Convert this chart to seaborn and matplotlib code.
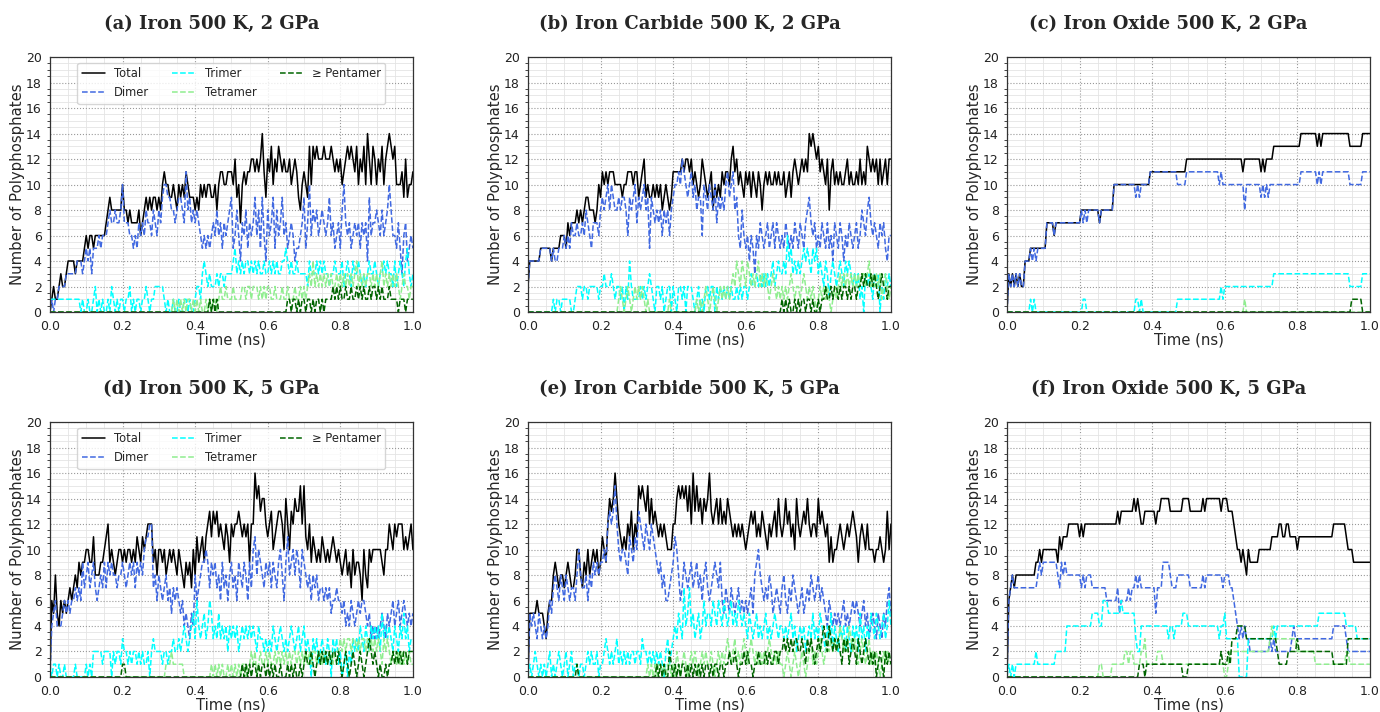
import numpy as np
import matplotlib
matplotlib.use("Agg")
import matplotlib.pyplot as plt
from matplotlib.ticker import MultipleLocator, AutoMinorLocator
import seaborn as sns

# values read every 0.005 ns (201 samples per series)

# (a) Iron 500 K, 2 GPa
a_total = [0,1,2,1,1,2,3,2,2,3, 4,4,4,4,3,4,4,4,4,5, 6,5,6,6,5,6,6,6,6,6, 6,7,8,9,8,8,8,8,8,8,
           10,8,8,7,8,7,7,7,7,8, 6,7,8,9,8,9,8,9,9,8, 9,8,10,11,10,10,9,9,10,9, 8,10,9,10,9,11,10,9,9,9,
           8,9,8,10,9,10,9,10,10,9, 9,10,8,10,11,11,10,10,11,11, 11,10,12,9,10,7,10,11,10,11, 11,12,12,11,12,11,12,14,11,9,
           12,11,13,10,12,11,13,12,11,12, 11,11,12,10,11,12,11,9,8,10, 11,10,9,13,10,13,12,13,12,12, 12,13,12,12,12,13,12,11,12,11,
           12,10,11,12,13,12,13,12,11,13, 10,12,11,13,10,14,12,10,13,12, 10,12,11,13,10,12,13,14,13,12, 13,10,10,10,11,9,12,9,10,10, 11]
a_dimer = [0,1,0,1,1,2,2,2,2,3, 3,3,3,3,3,4,4,4,3,4, 5,4,5,3,5,5,5,6,5,6, 6,6,7,8,7,7,8,7,7,8,
           10,7,7,7,6,6,5,6,5,7, 6,7,6,8,7,7,6,8,7,6, 8,7,9,10,10,9,9,8,8,7, 8,9,9,8,7,11,8,9,7,8,
           7,8,7,6,5,6,5,6,5,6, 7,6,8,6,7,5,7,6,7,8, 9,5,6,8,6,4,7,6,8,5, 7,6,7,9,6,8,5,9,6,4,
           8,6,7,9,5,8,6,7,9,6, 7,5,6,7,6,4,5,5,6,7, 9,5,7,10,6,8,7,8,6,7, 8,7,6,7,9,6,7,5,6,7,
           5,8,10,7,6,7,5,6,7,6, 7,5,7,6,7,4,9,6,7,7, 8,7,6,8,6,7,8,10,8,6, 6,5,7,5,3,6,7,4,5,6, 5]
a_trimer = [1,1,1,1,1,1,1,1,1,1, 1,1,1,1,1,1,1,0,1,0, 0,1,0,0,1,2,0,1,0,1, 0,0,1,0,2,1,0,1,0,1,
            1,0,1,1,2,0,1,0,1,1, 0,1,1,2,1,0,1,1,2,2, 2,2,2,1,0,1,0,0,1,0, 0,1,0,0,1,1,0,1,0,0,
            1,2,2,1,3,4,3,2,3,2, 2,2,3,2,3,3,2,3,3,3, 3,4,5,3,4,3,4,3,4,4, 3,4,3,4,3,4,3,3,4,3,
            3,4,3,4,3,4,3,3,4,4, 5,4,3,4,3,3,4,3,3,3, 3,3,2,4,3,3,3,4,3,4, 3,4,3,3,2,3,3,4,3,3,
            3,4,2,3,4,3,2,4,3,3, 4,3,2,3,2,3,4,3,3,4, 3,2,3,3,4,3,4,3,3,2, 4,2,3,4,3,2,4,5,3,2, 3]
a_tetramer = [0,0,0,0,0,0,0,0,0,0, 0,0,0,0,0,0,0,0,0,0, 0,0,0,0,0,0,0,0,0,0, 0,0,0,0,0,0,0,0,0,0,
              0,0,0,0,0,0,0,0,0,0, 0,0,0,0,0,0,0,0,0,0, 0,0,0,0,0,0,0,0,1,0, 1,0,1,0,1,0,1,1,0,1,
              0,1,0,1,0,0,1,0,1,0, 1,1,0,1,2,1,1,2,1,1, 1,2,1,1,1,1,2,2,1,2, 2,1,2,2,2,1,2,1,2,1,
              2,2,1,1,2,1,1,1,2,1, 1,2,1,1,1,2,1,1,2,1, 2,1,2,3,2,4,2,3,2,3, 2,3,2,3,2,3,2,2,3,2,
              3,2,3,2,3,2,3,2,3,4, 2,3,2,3,2,3,3,2,3,2, 3,2,3,4,2,3,2,3,2,3, 2,3,2,1,2,3,2,2,1,2, 2]
a_pentamer = [0,0,0,0,0,0,0,0,0,0, 0,0,0,0,0,0,0,0,0,0, 0,0,0,0,0,0,0,0,0,0, 0,0,0,0,0,0,0,0,0,0,
              0,0,0,0,0,0,0,0,0,0, 0,0,0,0,0,0,0,0,0,0, 0,0,0,0,0,0,0,0,0,0, 0,0,0,0,0,0,0,0,0,0,
              0,0,0,0,0,0,0,0,1,0, 1,0,1,0,0,0,0,0,0,0, 0,0,0,0,0,0,0,0,0,0, 0,0,0,0,0,0,0,0,0,0,
              0,0,0,0,0,0,0,0,0,0, 0,1,1,0,1,1,0,1,0,1, 1,0,1,1,0,1,0,1,1,0, 1,0,1,1,1,1,2,1,2,1,
              2,1,1,2,1,1,2,1,1,2, 1,2,1,2,1,1,2,1,2,2, 1,2,1,2,1,1,1,2,1,1, 1,1,0,1,1,1,0,1,1,1, 1]

# (b) Iron Carbide 500 K, 2 GPa
b_total = [2,4,4,4,4,4,4,5,5,5, 5,5,5,4,5,5,5,5,6,6, 6,5,7,6,7,7,7,8,7,8, 7,8,9,9,8,8,8,7,8,10,
           9,11,10,11,10,11,11,11,10,10, 10,10,9,10,10,11,11,11,10,11, 11,9,10,11,12,9,10,9,9,10, 9,10,9,10,8,9,10,9,8,9,
           11,11,11,11,11,12,11,12,12,11, 12,10,11,10,9,10,12,11,10,9, 10,11,8,10,9,10,9,11,10,11, 11,10,12,13,11,12,10,11,10,9,
           11,10,11,9,11,10,9,11,10,8, 10,11,10,11,10,10,11,10,11,10, 10,11,9,10,11,9,11,12,11,10, 11,12,11,12,11,14,13,14,13,12,
           13,11,12,11,10,12,8,11,12,10, 11,10,11,10,10,11,12,10,11,10, 10,11,10,12,10,11,10,13,12,11, 12,11,12,10,12,10,11,12,10,12, 12]
b_dimer = [2,4,4,4,4,4,4,5,5,5, 5,5,5,4,5,4,4,5,5,5, 6,5,6,5,7,6,6,7,6,6, 7,6,8,7,6,5,7,7,7,6,
           8,9,8,9,10,8,10,9,8,8, 9,8,9,9,8,6,9,8,9,10, 7,9,8,9,10,8,9,5,9,8, 7,8,7,8,6,8,7,8,6,8,
           9,10,10,11,10,12,11,10,9,10, 11,9,10,8,9,9,6,10,9,8, 10,9,8,10,7,9,8,9,8,10, 11,9,10,11,8,9,6,5,8,6,
           5,6,4,6,5,3,6,5,7,6, 5,6,7,5,6,7,5,7,6,5, 6,5,7,6,5,6,5,7,6,5, 7,6,5,7,8,9,7,6,7,5,
           6,5,7,6,5,7,5,6,4,7, 6,5,7,6,4,6,5,7,6,5, 6,7,5,6,8,7,6,8,9,7, 6,7,6,5,7,6,7,5,4,6, 6]
b_trimer = [0,0,0,0,0,0,0,0,0,0, 0,0,0,0,1,0,1,1,0,1, 1,1,1,1,0,0,1,2,2,2, 1,2,2,1,2,2,2,2,2,1,
            2,2,3,2,2,2,3,2,1,2, 2,1,2,0,2,1,4,2,1,1, 1,1,2,1,2,1,2,3,2,1, 0,2,2,1,2,0,1,2,2,0,
            2,1,0,2,2,1,2,0,2,2, 2,1,0,1,2,0,1,0,2,2, 1,2,2,0,2,1,2,1,2,1, 2,1,2,1,1,2,1,2,1,2,
            2,1,2,3,2,2,3,2,3,2, 3,2,3,2,3,4,2,3,4,3, 3,4,3,6,4,5,3,4,3,4, 3,4,5,4,5,4,3,5,4,5,
            3,4,3,2,4,3,1,3,4,3, 2,3,4,3,2,4,3,4,3,2, 3,2,3,1,2,0,3,2,3,2, 1,3,2,3,0,2,1,3,2,3, 2]
b_tetramer = [0,0,0,0,0,0,0,0,0,0, 0,0,0,0,0,0,0,0,0,0, 0,0,0,0,0,0,0,0,0,0, 0,0,0,0,0,0,0,0,0,0,
              0,0,0,0,0,0,0,0,0,0, 1,2,1,0,1,2,1,0,1,2, 1,2,1,2,1,0,1,0,0,0, 0,0,0,0,0,0,0,0,1,0,
              0,0,0,0,0,0,0,0,0,0, 0,0,0,1,0,1,0,1,2,1, 0,1,2,1,0,1,2,1,2,1, 2,1,2,3,2,4,3,2,4,3,
              2,4,3,2,3,2,3,4,2,3, 2,3,2,1,2,3,2,1,2,1, 2,1,2,1,2,3,2,1,2,2, 1,2,3,2,1,2,1,2,1,0,
              1,2,1,2,1,2,1,0,1,2, 1,2,3,2,3,2,3,2,3,2, 3,2,3,2,3,3,2,3,4,2, 3,2,3,2,3,1,2,3,2,1, 2]
b_pentamer = [0,0,0,0,0,0,0,0,0,0, 0,0,0,0,0,0,0,0,0,0, 0,0,0,0,0,0,0,0,0,0, 0,0,0,0,0,0,0,0,0,0,
              0,0,0,0,0,0,0,0,0,0, 0,0,0,0,0,0,0,0,0,0, 0,0,0,0,0,0,0,0,0,0, 0,0,0,0,0,0,0,0,0,0,
              0,0,0,0,0,0,0,0,0,0, 0,0,0,0,0,0,0,0,0,0, 0,0,0,0,0,0,0,0,0,0, 0,0,0,0,0,0,0,0,0,0,
              0,0,0,0,0,0,0,0,0,0, 0,0,0,0,0,0,0,0,0,0, 1,0,1,0,1,0,0,1,0,1, 0,1,1,0,1,1,0,1,0,0,
              1,0,1,1,2,1,1,2,1,2, 2,1,2,1,2,2,1,2,1,2, 2,1,2,2,3,2,3,2,2,3, 2,3,2,1,2,3,2,2,1,2, 2]

# (c) Iron Oxide 500 K, 2 GPa
c_total = [0,3,2,3,2,3,2,3,2,2, 4,4,4,5,5,5,5,5,5,5, 5,5,7,7,7,7,6,7,7,7, 7,7,7,7,7,7,7,7,7,7,
           7,8,8,8,8,8,8,8,8,8, 8,7,8,8,8,8,8,8,8,10, 10,10,10,10,10,10,10,10,10,10, 10,10,10,10,10,10,10,10,10,11,
           11,11,11,11,11,11,11,11,11,11, 11,11,11,11,11,11,11,11,11,12, 12,12,12,12,12,12,12,12,12,12, 12,12,12,12,12,12,12,12,12,12,
           12,12,12,12,12,12,12,12,12,12, 11,12,12,12,12,12,12,12,12,12, 11,12,11,12,12,12,12,13,13,13, 13,13,13,13,13,13,13,13,13,13,
           13,13,14,14,14,14,14,14,14,14, 14,13,14,13,14,14,14,14,14,14, 14,14,14,14,14,14,14,14,14,13, 13,13,13,13,13,13,14,14,14,14, 14]
c_dimer = [0,3,2,3,2,3,2,3,2,2, 4,4,4,5,4,5,4,5,5,5, 5,5,7,7,7,7,6,7,7,7, 7,7,7,7,7,7,7,7,7,7,
           7,8,7,8,7,8,8,8,8,8, 8,7,8,8,8,8,8,8,8,10, 10,10,10,10,10,10,10,10,10,10, 10,9,10,9,10,10,10,10,10,11,
           11,11,11,11,11,11,11,11,11,11, 11,11,11,11,10,10,10,10,10,11, 11,11,11,11,11,11,11,11,11,11, 11,11,11,11,11,11,11,10,11,10,
           10,10,10,10,10,10,10,10,10,10, 10,8,10,10,10,10,10,10,10,10, 9,10,9,10,9,10,10,10,10,10, 10,10,10,10,10,10,10,10,10,10,
           10,10,11,11,11,11,11,11,11,11, 11,10,11,10,11,11,11,11,11,11, 11,11,11,11,11,11,11,11,11,10, 10,10,10,10,10,10,11,11,11,11, 11]
c_trimer = [0,0,0,0,0,0,0,0,0,0, 0,0,0,1,0,1,0,0,0,0, 0,0,0,0,0,0,0,0,0,0, 0,0,0,0,0,0,0,0,0,0,
            0,0,1,1,0,0,0,0,0,0, 0,0,0,0,0,0,0,0,0,0, 0,0,0,0,0,0,0,0,0,0, 0,1,1,0,1,0,0,0,0,0,
            0,0,0,0,0,0,0,0,0,0, 0,0,0,0,1,1,1,1,1,1, 1,1,1,1,1,1,1,1,1,1, 1,1,1,1,1,1,1,1,2,1,
            2,2,2,2,2,2,2,2,2,2, 2,2,2,2,2,2,2,2,2,2, 2,2,2,2,2,2,2,3,3,3, 3,3,3,3,3,3,3,3,3,3,
            3,3,3,3,3,3,3,3,3,3, 3,3,3,3,3,3,3,3,3,3, 3,3,3,3,3,3,3,3,3,2, 2,2,2,2,2,2,3,3,3,3, 3]
c_tetramer = [0,0,0,0,0,0,0,0,0,0, 0,0,0,0,0,0,0,0,0,0, 0,0,0,0,0,0,0,0,0,0, 0,0,0,0,0,0,0,0,0,0,
              0,0,0,0,0,0,0,0,0,0, 0,0,0,0,0,0,0,0,0,0, 0,0,0,0,0,0,0,0,0,0, 0,0,0,0,0,0,0,0,0,0,
              0,0,0,0,0,0,0,0,0,0, 0,0,0,0,0,0,0,0,0,0, 0,0,0,0,0,0,0,0,0,0, 0,0,0,0,0,0,0,0,0,0,
              0,0,0,0,0,0,0,0,0,0, 0,1,0,0,0,0,0,0,0,0, 0,0,0,0,0,0,0,0,0,0, 0,0,0,0,0,0,0,0,0,0,
              0,0,0,0,0,0,0,0,0,0, 0,0,0,0,0,0,0,0,0,0, 0,0,0,0,0,0,0,0,0,0, 0,0,0,0,0,0,0,0,0,0, 0]
c_pentamer = [0,0,0,0,0,0,0,0,0,0, 0,0,0,0,0,0,0,0,0,0, 0,0,0,0,0,0,0,0,0,0, 0,0,0,0,0,0,0,0,0,0,
              0,0,0,0,0,0,0,0,0,0, 0,0,0,0,0,0,0,0,0,0, 0,0,0,0,0,0,0,0,0,0, 0,0,0,0,0,0,0,0,0,0,
              0,0,0,0,0,0,0,0,0,0, 0,0,0,0,0,0,0,0,0,0, 0,0,0,0,0,0,0,0,0,0, 0,0,0,0,0,0,0,0,0,0,
              0,0,0,0,0,0,0,0,0,0, 0,0,0,0,0,0,0,0,0,0, 0,0,0,0,0,0,0,0,0,0, 0,0,0,0,0,0,0,0,0,0,
              0,0,0,0,0,0,0,0,0,0, 0,0,0,0,0,0,0,0,0,0, 0,0,0,0,0,0,0,0,0,0, 1,1,1,1,1,1,0,0,0,0, 0]

# (d) Iron 500 K, 5 GPa
d_total = [0,6,5,8,5,4,6,5,6,5, 6,7,6,7,8,7,9,8,9,9, 10,10,9,9,11,8,8,8,9,9, 10,11,12,9,10,9,8,9,10,10,
           9,10,9,10,10,9,10,9,11,10, 9,11,10,11,12,12,12,9,10,8, 10,10,9,10,8,9,10,9,10,9, 8,10,9,8,7,9,8,9,7,10,
           8,11,9,10,11,9,11,12,13,11, 13,12,13,11,12,11,10,12,11,9, 12,11,12,12,13,12,11,12,11,12, 9,12,12,16,14,15,13,14,14,12,
           11,12,13,10,11,12,13,13,12,10, 14,12,10,13,12,14,13,13,15,12, 15,11,10,12,9,11,10,9,10,9, 11,10,9,10,9,10,11,10,9,10,
           9,8,9,10,8,9,7,10,8,9, 9,8,6,10,8,7,10,9,10,10, 10,10,10,9,8,10,10,12,11,10, 12,11,12,12,12,10,11,10,11,12, 10]
d_dimer = [0,4,5,6,4,4,4,5,6,5, 6,5,6,6,7,6,7,6,9,7, 8,9,7,8,9,7,6,7,8,7, 9,7,9,8,9,8,8,7,8,8,
           9,8,7,8,9,8,9,7,9,8, 9,8,10,11,11,12,12,7,8,6, 8,7,6,7,8,6,7,5,7,6, 7,6,5,6,4,5,4,3,5,4,
           8,6,7,8,9,9,10,9,7,9, 8,9,7,8,6,9,7,8,6,8, 9,7,8,6,9,8,7,9,8,6, 9,7,10,11,8,10,9,8,7,9,
           8,9,7,9,8,7,9,10,8,6, 9,11,8,9,10,8,10,9,7,10, 9,8,7,8,6,8,7,8,6,7, 7,6,7,6,7,5,6,6,7,6,
           6,5,6,4,5,4,6,5,4,5, 6,5,6,6,5,4,5,3,4,3, 4,3,4,5,4,3,5,4,5,6, 4,5,6,4,5,6,5,4,5,4, 5]
d_trimer = [1,0,1,1,0,1,0,0,1,0, 0,0,0,0,1,0,0,0,0,0, 1,0,1,0,2,2,2,2,2,1, 2,2,2,2,0,2,1,2,2,1,
            3,2,2,1,2,1,2,2,1,2, 1,2,1,1,2,0,2,3,2,2, 2,2,1,2,2,1,2,2,3,2, 2,3,2,3,4,3,2,3,4,5,
            3,6,4,3,4,5,3,4,6,5, 3,4,3,5,3,4,3,4,2,4, 3,4,3,4,2,3,4,3,4,3, 4,3,4,3,2,4,3,3,2,3,
            2,3,2,4,3,2,3,4,3,2, 3,2,3,4,3,2,3,4,2,3, 4,2,3,2,0,3,2,3,1,2, 3,2,1,3,2,0,3,2,3,1,
            2,0,1,2,0,2,1,3,2,3, 2,4,3,2,4,3,2,4,3,4, 3,4,2,5,3,4,3,4,3,2, 4,3,2,4,3,5,3,4,2,3, 3]
d_tetramer = [0,0,0,0,0,0,0,0,0,0, 0,0,0,0,0,0,0,0,0,0, 0,0,0,0,0,0,0,0,0,0, 0,0,0,0,0,0,0,0,0,0,
              0,0,0,0,0,0,0,0,0,0, 0,0,0,0,0,0,0,0,0,0, 0,0,0,0,1,1,1,2,1,1, 1,1,1,1,0,0,0,0,0,0,
              0,0,0,0,0,0,0,0,0,1, 0,1,0,1,0,1,0,0,1,0, 1,0,1,0,1,0,1,1,0,1, 1,2,1,2,0,1,2,1,1,2,
              1,2,1,1,2,1,2,1,2,1, 2,1,2,1,2,2,1,2,1,2, 1,2,1,2,1,2,2,1,2,2, 1,2,2,1,2,2,1,2,2,2,
              3,2,3,2,3,3,2,3,3,2, 3,2,3,3,2,3,2,3,2,3, 2,3,2,1,3,2,3,2,1,2, 2,1,2,1,2,1,2,1,2,1, 1]
d_pentamer = [0,0,0,0,0,0,0,0,0,0, 0,0,0,0,0,0,0,0,0,0, 0,0,0,0,0,0,0,0,0,0, 0,0,0,0,0,0,0,0,0,0,
              1,1,0,0,0,0,0,0,0,0, 0,0,0,0,0,0,0,0,0,0, 0,0,0,0,0,0,0,0,0,0, 0,0,0,0,0,0,0,0,0,0,
              0,0,0,0,0,0,0,0,0,0, 0,0,0,0,0,0,0,0,0,0, 0,0,0,0,0,0,1,0,1,0, 1,0,1,1,0,1,0,1,1,0,
              1,0,1,0,1,0,0,1,0,0, 0,1,0,1,0,1,0,0,1,0, 1,2,1,1,2,1,0,1,2,1, 2,1,2,1,2,1,2,2,1,2,
              1,0,1,2,1,0,1,2,1,0, 1,2,1,0,1,2,3,2,1,2, 1,0,1,0,0,1,0,1,1,2, 1,2,1,2,1,2,2,1,2,2, 2]

# (e) Iron Carbide 500 K, 5 GPa
e_total = [0,5,5,5,5,6,5,5,5,4, 3,5,6,6,8,9,8,7,8,8, 7,8,9,8,7,7,8,10,10,8, 7,9,8,10,8,9,10,9,10,8,
           9,11,10,9,12,14,13,14,16,14, 12,11,10,11,10,12,11,13,10,12, 11,15,14,15,14,13,15,12,14,12, 13,12,11,12,11,12,11,10,10,10,
           12,12,14,15,14,15,14,15,13,15, 12,16,13,15,13,14,12,14,13,14, 16,13,12,13,14,12,14,12,13,12, 14,13,12,11,12,11,12,11,12,11,
           10,11,12,13,12,13,11,12,11,13, 12,11,10,12,11,12,13,11,14,12, 11,12,14,12,13,11,12,10,14,12, 11,12,13,12,14,12,11,12,12,11,
           14,12,13,12,11,12,9,11,9,10, 10,11,12,11,10,11,12,11,12,13, 12,11,9,11,12,11,10,12,10,10, 10,9,10,10,11,10,9,10,13,10, 12]
e_dimer = [0,5,4,5,4,3,5,4,3,4, 3,4,6,5,7,8,7,6,8,7, 6,8,7,6,7,7,6,8,10,8, 7,7,8,6,8,7,9,8,9,8,
           9,9,10,9,12,13,12,13,15,12, 10,9,10,10,9,8,11,10,9,11, 10,13,12,11,10,12,11,10,12,11, 10,9,8,9,7,8,6,6,7,8,
           9,11,10,8,6,7,9,8,7,8, 9,7,8,9,7,8,6,8,9,7, 6,7,8,9,8,7,9,6,5,7, 6,5,7,6,5,6,7,5,6,5,
           6,5,6,7,5,8,9,10,8,7, 6,7,6,8,7,5,6,7,6,5, 7,8,6,5,7,6,8,7,6,5, 6,7,5,6,7,6,8,7,6,7,
           8,6,7,6,5,4,6,5,4,5, 4,5,4,5,6,4,5,4,5,6, 5,6,5,4,5,6,4,5,3,4, 5,4,3,5,4,3,5,4,6,7, 5]
e_trimer = [0,1,0,1,2,1,0,1,0,1, 0,1,2,0,1,0,1,2,1,0, 1,2,0,1,2,0,1,1,0,1, 1,0,1,2,1,2,1,1,2,0,
            1,1,2,3,2,1,2,1,2,3, 1,2,1,2,1,2,1,2,2,1, 2,2,1,3,2,2,1,2,1,2, 1,2,1,2,1,0,2,3,1,2,
            3,4,3,5,4,3,7,4,5,7, 4,5,3,4,5,3,4,6,4,5, 5,4,6,5,4,6,5,4,6,5, 4,5,6,4,5,4,6,5,4,5,
            4,3,5,4,3,4,5,3,4,3, 4,5,3,4,3,4,5,4,3,4, 4,3,4,3,4,5,3,4,2,3, 4,3,4,2,3,4,3,5,3,4,
            3,5,4,3,2,4,3,5,2,4, 3,2,4,3,4,2,4,3,2,4, 3,4,2,5,3,4,2,4,3,5, 4,3,5,4,3,4,5,3,4,6, 4]
e_tetramer = [0,0,0,0,0,0,0,0,0,0, 0,0,0,0,0,0,0,0,0,0, 0,0,0,0,0,0,0,0,0,0, 0,0,0,0,0,0,0,0,0,0,
              0,0,0,0,0,0,0,0,0,0, 0,0,0,0,0,0,0,0,0,0, 0,0,0,0,0,0,1,0,1,0, 1,0,1,1,0,1,0,1,1,0,
              1,0,2,1,0,1,2,1,0,1, 2,1,2,1,0,1,2,1,2,1, 1,2,1,0,1,2,1,2,1,2, 3,2,1,2,3,1,2,1,2,3,
              2,1,2,3,2,1,2,1,2,1, 2,1,2,3,2,1,2,1,2,1, 1,0,1,2,1,0,1,2,1,0, 1,2,1,0,1,2,3,1,2,1,
              2,3,2,1,2,3,2,3,2,3, 2,3,4,3,2,3,2,4,3,2, 3,2,1,2,3,2,1,2,3,1, 2,1,2,1,0,1,2,1,2,1, 1]
e_pentamer = [0,0,0,0,0,0,0,0,0,0, 0,0,0,0,0,0,0,0,0,0, 0,0,0,0,0,0,0,1,0,0, 0,0,0,0,0,0,0,0,0,0,
              0,0,0,0,0,0,0,0,0,0, 0,0,0,0,0,0,0,0,0,0, 0,0,0,0,0,0,0,0,0,0, 0,1,0,1,0,1,0,0,2,1,
              0,1,0,1,0,1,1,0,1,0, 1,0,1,0,1,0,1,0,1,1, 0,1,0,1,1,0,1,1,0,1, 1,2,1,1,2,1,0,1,1,2,
              1,2,1,1,0,1,1,2,1,1, 1,2,1,2,1,1,2,2,1,2, 2,3,2,3,2,3,2,3,3,2, 2,3,2,1,3,2,3,2,1,2,
              3,2,3,4,3,2,4,3,2,3, 2,3,2,1,3,2,3,1,2,3, 2,1,3,2,1,2,3,2,1,2, 1,2,0,1,2,1,0,2,1,2, 1]

# (f) Iron Oxide 500 K, 5 GPa
f_total = [0,6,7,8,7,8,8,8,8,8, 8,8,8,8,8,8,9,9,10,9, 10,10,10,10,10,10,10,10,9,11, 10,11,11,11,12,12,12,12,12,12,
           11,12,11,12,12,12,12,12,12,12, 12,12,12,12,12,12,12,12,12,12, 12,13,12,13,13,13,13,13,13,13, 14,13,14,13,12,12,13,13,13,13,
           13,13,12,13,13,14,14,14,14,14, 13,13,13,13,13,13,13,14,14,14, 14,13,13,13,13,13,13,13,14,13, 14,14,14,14,14,14,14,14,13,14,
           14,14,13,13,13,12,11,10,10,9, 10,9,8,10,9,9,9,9,9,10, 10,10,10,10,10,10,11,11,11,11, 12,12,11,11,12,12,11,11,11,11,
           10,11,11,11,11,11,11,11,11,11, 11,11,11,11,11,11,11,11,11,11, 12,12,12,12,12,12,12,11,10,10, 10,9,9,9,9,9,9,9,9,9, 9]
f_dimer = [0,6,7,8,7,7,7,7,7,7, 7,7,7,7,7,7,7,8,9,8, 9,9,9,9,9,9,9,9,8,7, 9,8,9,8,8,8,8,8,8,8,
           8,7,8,7,8,8,8,7,7,7, 7,7,7,7,7,6,6,6,6,6, 6,7,5,6,6,6,6,7,6,7, 7,8,7,8,7,7,7,7,7,7,
           7,7,5,7,7,7,9,9,9,9, 8,7,7,7,8,8,8,8,8,8, 8,7,7,7,7,7,7,7,8,7, 8,8,8,8,8,8,8,8,8,7,
           8,8,8,7,7,6,5,4,3,4, 3,4,3,3,2,2,2,2,2,2, 2,2,2,2,2,3,2,3,2,2, 2,2,2,2,2,2,2,3,4,3,
           3,3,3,3,3,3,3,3,3,3, 3,3,3,3,3,3,3,3,3,3, 4,4,4,4,4,4,4,3,2,2, 2,2,2,2,2,2,2,2,2,2, 2]
f_trimer = [0,1,0,1,0,1,1,1,1,1, 1,1,1,1,1,1,2,1,1,1, 1,1,1,1,1,1,1,2,2,2, 2,2,2,4,4,4,4,4,4,4,
            4,4,4,4,4,4,4,5,5,5, 5,4,4,6,6,6,5,5,5,5, 5,5,5,6,5,5,5,5,5,5, 5,3,2,2,4,4,4,4,4,4,
            4,4,4,4,4,4,4,4,4,3, 4,4,3,4,4,4,4,5,5,5, 4,4,4,4,4,4,4,4,4,4, 4,4,4,4,4,4,4,3,4,4,
            5,3,3,3,3,3,3,3,0,0, 0,0,0,3,3,3,3,3,3,3, 3,3,3,3,3,3,3,4,3,4, 4,4,4,4,4,4,4,4,4,4,
            4,4,4,4,4,4,4,4,4,4, 4,4,5,5,5,5,5,5,5,5, 5,5,5,5,5,5,5,4,4,4, 4,4,4,3,3,3,3,3,3,3, 3]
f_tetramer = [0,0,0,0,0,0,0,0,0,0, 0,0,0,0,0,0,0,0,0,0, 0,0,0,0,0,0,0,0,0,0, 0,0,0,0,0,0,0,0,0,0,
              0,0,0,0,0,0,0,0,0,0, 0,1,1,0,0,0,0,0,1,1, 1,1,1,1,1,2,2,1,2,2, 1,1,1,1,2,2,3,1,1,1,
              1,1,1,2,2,2,1,1,1,1, 1,1,1,1,1,1,1,1,1,1, 1,1,1,1,1,1,1,1,1,1, 1,1,1,1,1,1,1,1,1,1,
              0,0,1,2,2,2,2,2,2,2, 2,2,2,2,2,2,2,2,2,2, 2,2,2,2,2,3,4,3,3,3, 3,3,3,3,3,3,3,3,3,3,
              2,2,2,2,2,2,2,2,2,2, 1,1,1,1,1,1,1,1,1,1, 1,1,1,1,1,1,1,2,2,1, 1,1,1,1,1,1,1,1,1,1, 1]
f_pentamer = [0,0,0,0,0,0,0,0,0,0, 0,0,0,0,0,0,0,0,0,0, 0,0,0,0,0,0,0,0,0,0, 0,0,0,0,0,0,0,0,0,0,
              0,0,0,0,0,0,0,0,0,0, 0,0,0,0,0,0,0,0,0,0, 0,0,0,0,0,0,0,0,0,0, 0,0,0,1,1,1,0,1,1,1,
              1,1,1,1,1,1,1,1,1,1, 1,1,1,1,1,1,1,0,0,0, 1,1,1,1,1,1,1,1,1,1, 1,1,1,1,1,1,1,1,2,1,
              1,1,2,1,3,3,3,4,4,4, 4,4,3,3,3,3,3,3,3,3, 3,3,3,3,3,3,3,3,3,2, 1,1,1,1,1,2,2,2,2,2,
              3,2,2,2,2,2,2,2,2,2, 2,2,2,2,2,2,2,2,2,2, 1,1,1,1,1,1,1,1,3,3, 3,3,3,3,3,3,3,3,3,3, 3]

titles = ["(a) Iron 500 K, 2 GPa", "(b) Iron Carbide 500 K, 2 GPa", "(c) Iron Oxide 500 K, 2 GPa",
          "(d) Iron 500 K, 5 GPa", "(e) Iron Carbide 500 K, 5 GPa", "(f) Iron Oxide 500 K, 5 GPa"]
panels = [
    [a_total, a_dimer, a_trimer, a_tetramer, a_pentamer],
    [b_total, b_dimer, b_trimer, b_tetramer, b_pentamer],
    [c_total, c_dimer, c_trimer, c_tetramer, c_pentamer],
    [d_total, d_dimer, d_trimer, d_tetramer, d_pentamer],
    [e_total, e_dimer, e_trimer, e_tetramer, e_pentamer],
    [f_total, f_dimer, f_trimer, f_tetramer, f_pentamer],
]
names = ["Total", "Dimer", "Trimer", "Tetramer", "\u2265 Pentamer"]
colors = ["black", "royalblue", "cyan", "lightgreen", "darkgreen"]
styles = ["-", "--", "--", "--", "--"]
with_legend = [True, False, False, True, False, False]

sns.set_style("white")
plt.rcParams["font.family"] = ["DejaVu Sans"]

fig = plt.figure(figsize=(13.8, 7.12), dpi=100)
lefts = [0.0362, 0.3826, 0.7297]
bottoms = [0.5618, 0.0492]

for k, (title, series) in enumerate(zip(titles, panels)):
    ax = fig.add_axes([lefts[k % 3], bottoms[k // 3], 0.263, 0.358])
    for name, vals, col, ls in zip(names, series, colors, styles):
        t = np.linspace(0, 1, len(vals))
        sns.lineplot(x=t, y=vals, ax=ax, color=col, linestyle=ls, linewidth=1.1,
                     label=name, legend=False, estimator=None)

    ax.set_xlim(0, 1)
    ax.set_ylim(0, 20)
    ax.xaxis.set_major_locator(MultipleLocator(0.2))
    ax.yaxis.set_major_locator(MultipleLocator(2))
    ax.xaxis.set_minor_locator(AutoMinorLocator(4))
    ax.yaxis.set_minor_locator(AutoMinorLocator(4))
    ax.grid(which="major", color="#999999", linestyle=":", linewidth=0.8)
    ax.grid(which="minor", color="#e4e4e4", linestyle="-", linewidth=0.6)
    ax.tick_params(which="major", direction="out", length=3.5, width=0.8, labelsize=9,
                   colors="#222222", pad=2.5)
    ax.tick_params(axis="y", which="minor", direction="out", length=2, width=0.6, left=True)
    ax.tick_params(axis="x", which="minor", length=0)
    for sp in ax.spines.values():
        sp.set_color("#333333")
        sp.set_linewidth(0.9)
    ax.set_xlabel("Time (ns)", fontsize=10.7, labelpad=-0.5)
    ax.set_ylabel("Number of Polyphosphates", fontsize=10.7, labelpad=0.5)
    ax.set_title(title, fontsize=13, fontweight="bold", family="DejaVu Serif", pad=20, x=0.445)
    if with_legend[k]:
        ax.legend(loc="upper center", ncol=3, fontsize=8.3, framealpha=0.8,
                  borderaxespad=0.5, columnspacing=2.0)

fig.savefig("out.png", dpi=100)
